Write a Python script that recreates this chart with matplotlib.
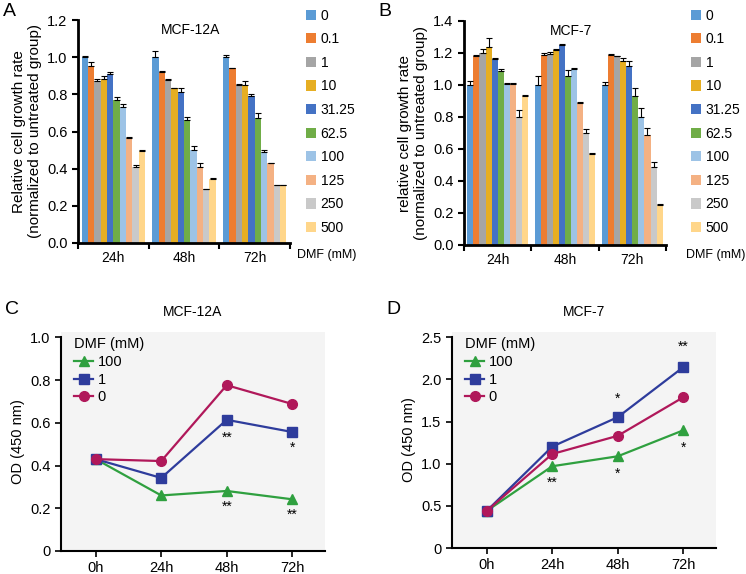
import numpy as np
import matplotlib
matplotlib.use('Agg')
import matplotlib.pyplot as plt
from matplotlib.patches import Patch

plt.rcParams['font.family'] = ['Liberation Sans', 'DejaVu Sans']

# --- bar chart data ---
times = ['24h', '48h', '72h']
doses = ['0', '0.1', '1', '10', '31.25', '62.5', '100', '125', '250', '500']
dose_colors = ['#5B9BD5', '#ED7D31', '#A5A5A5', '#E6AE22', '#4472C4',
               '#70AD47', '#9DC3E6', '#F4B183', '#C9C9C9', '#FFD68A']

mcf12a_bar = [
    [1.00, 0.955, 0.87, 0.885, 0.912, 0.768, 0.73, 0.565, 0.41, 0.497],
    [1.00, 0.918, 0.878, 0.832, 0.812, 0.66, 0.50, 0.41, 0.288, 0.347],
    [1.00, 0.94, 0.852, 0.85, 0.79, 0.672, 0.49, 0.43, 0.31, 0.31],
]
mcf12a_err = [
    [0.008, 0.018, 0.014, 0.014, 0.008, 0.018, 0.016, 0.003, 0.008, 0.003],
    [0.035, 0.01, 0.006, 0.004, 0.022, 0.017, 0.024, 0.02, 0.003, 0.003],
    [0.01, 0.003, 0.006, 0.02, 0.01, 0.025, 0.01, 0.003, 0.003, 0.003],
]
mcf7_bar = [
    [1.00, 1.18, 1.20, 1.235, 1.16, 1.09, 1.005, 1.005, 0.80, 0.93],
    [1.00, 1.185, 1.195, 1.22, 1.25, 1.055, 1.10, 0.89, 0.70, 0.57],
    [1.00, 1.185, 1.18, 1.15, 1.12, 0.93, 0.80, 0.685, 0.49, 0.25],
]
mcf7_err = [
    [0.022, 0.005, 0.022, 0.06, 0.01, 0.012, 0.008, 0.008, 0.042, 0.005],
    [0.055, 0.018, 0.01, 0.005, 0.006, 0.04, 0.005, 0.005, 0.022, 0.005],
    [0.02, 0.01, 0.003, 0.018, 0.03, 0.05, 0.055, 0.045, 0.03, 0.005],
]

# --- line chart data ---
hours = ['0h', '24h', '48h', '72h']
line_doses = ['100', '1', '0']
line_colors = ['#2FA03F', '#2E3C9C', '#B0185A']
line_markers = ['^', 's', 'o']
mcf12a_od = [
    [0.43, 0.26, 0.281, 0.242],
    [0.43, 0.342, 0.614, 0.557],
    [0.43, 0.421, 0.776, 0.688],
]
mcf7_od = [
    [0.44, 0.97, 1.088, 1.396],
    [0.44, 1.203, 1.552, 2.145],
    [0.44, 1.115, 1.331, 1.788],
]
# significance marks: (time index, y, label)
mcf12a_stars = [(2, 0.53, '**'), (3, 0.485, '*'), (2, 0.205, '**'), (3, 0.168, '**')]
mcf7_stars = [(1, 0.77, '**'), (2, 1.77, '*'), (2, 0.885, '*'), (3, 2.385, '**'), (3, 1.185, '*')]

fig = plt.figure(figsize=(7.46, 5.74), dpi=100)


def bar_panel(rect, vals, errs, ymax, title, ylabel, leg_x, dmf_x):
    ax = fig.add_axes(rect)
    x = np.arange(len(times))
    w = 0.09
    for i, d in enumerate(doses):
        h = [vals[t][i] for t in range(len(times))]
        e = [errs[t][i] for t in range(len(times))]
        xs = x + (i - 4.5) * w
        ax.bar(xs, h, width=w, color=dose_colors[i], zorder=2)
        ax.errorbar(xs, h, yerr=[np.zeros(len(e)), e], fmt='none', ecolor='black',
                    elinewidth=0.8, capsize=2, capthick=0.8, zorder=3)
    ax.set_xlim(-0.5, 2.5)
    ax.set_ylim(0, ymax)
    ax.set_yticks(np.arange(0, ymax + 0.01, 0.2))
    ax.set_yticklabels(['%.1f' % v for v in np.arange(0, ymax + 0.01, 0.2)])
    ax.set_xticks(x)
    ax.set_xticklabels(times)
    ax.set_xticks([-0.5, 0.5, 1.5, 2.5], minor=True)
    ax.tick_params(axis='x', which='major', length=0, pad=6, labelsize=10)
    ax.tick_params(axis='x', which='minor', length=4, width=1.5, direction='out')
    ax.tick_params(axis='y', length=4, width=1.5, labelsize=10.5)
    for s in ['top', 'right']:
        ax.spines[s].set_visible(False)
    for s in ['left', 'bottom']:
        ax.spines[s].set_linewidth(2)
    ax.text(0.53, 0.985, title, transform=ax.transAxes, ha='center', va='top', fontsize=10)
    ax.set_ylabel(ylabel, fontsize=11, linespacing=1.1, labelpad=4)
    handles = [Patch(facecolor=c) for c in dose_colors]
    fig.legend(handles, doses, loc='upper left', bbox_to_anchor=(leg_x, 0.985),
               frameon=False, fontsize=10, handlelength=0.75, handleheight=0.75,
               handletextpad=0.3, labelspacing=0.69, borderaxespad=0, borderpad=0)
    fig.text(dmf_x, 1 - 255 / 574, 'DMF (mM)', fontsize=9, ha='left', va='center')
    return ax


bar_panel([78 / 746, 1 - 243 / 574, 212 / 746, 223 / 574], mcf12a_bar, mcf12a_err, 1.2,
          'MCF-12A', 'Relative cell growth rate\n(normalized to untreated group)', 306 / 746, 297 / 746)
bar_panel([464 / 746, 1 - 245 / 574, 202 / 746, 224 / 574], mcf7_bar, mcf7_err, 1.4,
          'MCF-7', 'relative cell growth rate\n(normalized to untreated group)', 691 / 746, 686 / 746)


def line_panel(rect, vals, stars, ymax, step, title, title_y):
    ax = fig.add_axes(rect)
    ax.set_facecolor('#F4F4F4')
    x = np.arange(len(hours))
    for i in range(len(line_doses)):
        ax.plot(x, vals[i], color=line_colors[i], marker=line_markers[i], lw=1.6,
                ms=7, label=line_doses[i], zorder=3)
    for xi, y, s in stars:
        ax.text(xi, y, s, ha='center', va='center', fontsize=10)
    ax.set_xlim(-0.53, 3.5)
    ax.set_ylim(0, ymax * 1.025)
    ticks = np.arange(0, ymax + step / 2, step)
    ax.set_yticks(ticks)
    ax.set_yticklabels(['0'] + ['%.1f' % v for v in ticks[1:]])
    ax.set_xticks(x)
    ax.set_xticklabels(hours)
    ax.spines['left'].set_bounds(0, ymax)
    for s in ['top', 'right']:
        ax.spines[s].set_visible(False)
    for s in ['left', 'bottom']:
        ax.spines[s].set_linewidth(1.5)
    ax.tick_params(length=4, width=1.2, labelsize=10.5)
    ax.set_ylabel('OD (450 nm)', fontsize=10.5)
    ax.legend(loc='upper left', bbox_to_anchor=(0.05, 0.975), frameon=False,
              fontsize=10.5, title='DMF (mM)', title_fontsize=10.5, alignment='left',
              handlelength=1.3, handletextpad=0.3, labelspacing=0.25,
              borderaxespad=0, borderpad=0)
    fig.text((rect[0] + rect[2] / 2), title_y, title, ha='center', va='center', fontsize=10)
    return ax


line_panel([61 / 746, 1 - 551 / 574, 264 / 746, 219 / 574], mcf12a_od, mcf12a_stars,
           1.0, 0.2, 'MCF-12A', 1 - 312 / 574)
line_panel([452 / 746, 1 - 548 / 574, 264 / 746, 216 / 574], mcf7_od, mcf7_stars,
           2.5, 0.5, 'MCF-7', 1 - 312 / 574)

for lbl, px, py in [('A', 3, 12), ('B', 378, 12), ('C', 5, 310), ('D', 386, 310)]:
    fig.text(px / 746, 1 - py / 574, lbl, fontsize=14, ha='left', va='center')

fig.savefig('out.png', dpi=100)
